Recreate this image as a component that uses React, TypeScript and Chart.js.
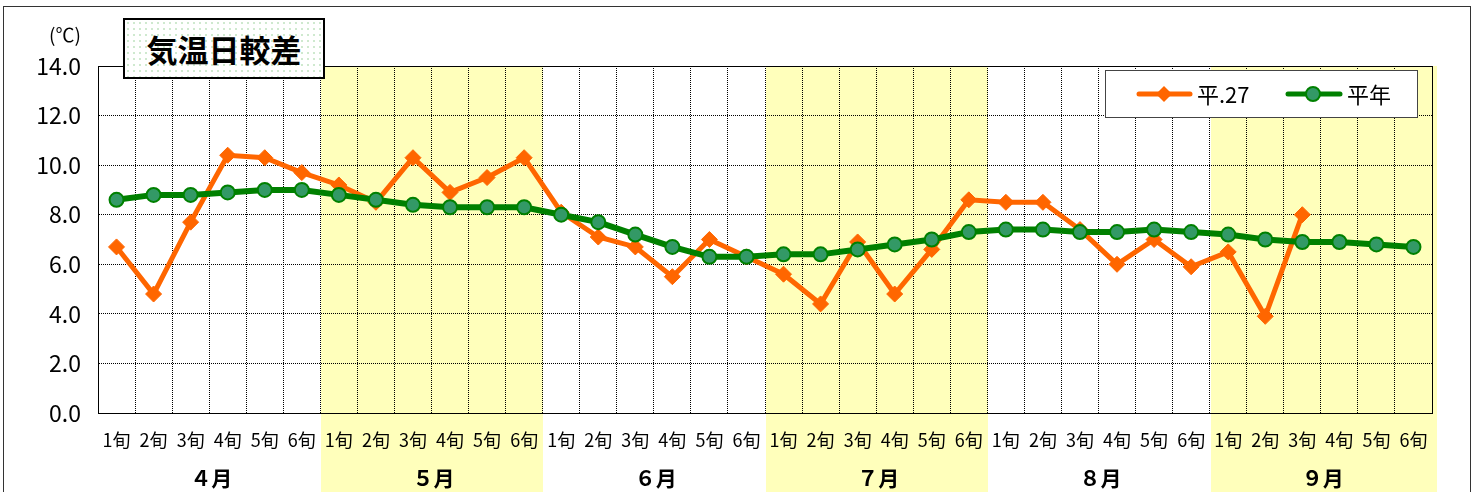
import { useEffect, useRef } from 'react';
import { Chart, registerables } from 'chart.js';

Chart.register(...registerables);

const months = ['４月', '５月', '６月', '７月', '８月', '９月'];
const decades = ['1旬', '2旬', '3旬', '4旬', '5旬', '6旬'];
const categories = months.flatMap(() => decades);

const seriesH27Label = '平.27';
const seriesNormalLabel = '平年';

const h27 = [
  6.7, 4.8, 7.7, 10.4, 10.3, 9.7,
  9.2, 8.5, 10.3, 8.9, 9.5, 10.3,
  8.1, 7.1, 6.7, 5.5, 7.0, 6.3,
  5.6, 4.4, 6.9, 4.8, 6.6, 8.6,
  8.5, 8.5, 7.4, 6.0, 7.0, 5.9,
  6.5, 3.9, 8.0, null, null, null,
];

const normal = [
  8.6, 8.8, 8.8, 8.9, 9.0, 9.0,
  8.8, 8.6, 8.4, 8.3, 8.3, 8.3,
  8.0, 7.7, 7.2, 6.7, 6.3, 6.3,
  6.4, 6.4, 6.6, 6.8, 7.0, 7.3,
  7.4, 7.4, 7.3, 7.3, 7.4, 7.3,
  7.2, 7.0, 6.9, 6.9, 6.8, 6.7,
];

const yMin = 0;
const yMax = 14;
const yStep = 2;
const shadedMonths = [1, 3, 5];

const ORANGE = '#FF6600';
const GREEN = '#008000';
const GREEN_FILL = '#339966';
const YELLOW = 'rgb(255,255,187)';
const FONT = '"Noto Sans CJK JP", "Noto Sans", sans-serif';

const decorPlugin = {
  id: 'decor',
  beforeDraw(chart: any) {
    const { ctx, chartArea, scales } = chart;
    const x = scales.x;
    const half = (x.getPixelForValue(1) - x.getPixelForValue(0)) / 2;
    ctx.save();
    ctx.fillStyle = '#fff';
    ctx.fillRect(0, 0, chart.width, chart.height);
    ctx.fillStyle = YELLOW;
    shadedMonths.forEach((m) => {
      const l = x.getPixelForValue(m * 6) - half;
      const r = x.getPixelForValue(m * 6 + 5) + half;
      const extra = m === 5 ? 4 : 0;
      ctx.fillRect(Math.round(l) + 1, chartArea.top, Math.round(r - l) + extra, chart.height - chartArea.top);
    });
    // outer frame
    ctx.strokeStyle = '#333';
    ctx.lineWidth = 1;
    ctx.strokeRect(3.5, 6.5, 1467, 520);
    ctx.restore();
  },
  afterDraw(chart: any) {
    const { ctx, chartArea, scales } = chart;
    const x = scales.x;
    ctx.save();
    // plot border
    ctx.strokeStyle = '#000';
    ctx.lineWidth = 1;
    ctx.strokeRect(
      Math.round(chartArea.left) + 0.5,
      Math.round(chartArea.top) + 0.5,
      Math.round(chartArea.right - chartArea.left),
      Math.round(chartArea.bottom - chartArea.top)
    );
    // month labels
    ctx.fillStyle = '#000';
    ctx.font = `bold 21px ${FONT}`;
    ctx.textAlign = 'center';
    ctx.textBaseline = 'middle';
    months.forEach((m, i) => {
      const cx = (x.getPixelForValue(i * 6) + x.getPixelForValue(i * 6 + 5)) / 2;
      ctx.fillText(m, cx + 2, 478);
    });
    // legend
    const bx = 1105, by = 70, bw = 312, bh = 47;
    ctx.fillStyle = '#fff';
    ctx.fillRect(bx, by, bw, bh);
    ctx.strokeStyle = '#444';
    ctx.strokeRect(bx + 0.5, by + 0.5, bw, bh);
    const ly = 94;
    // orange
    ctx.strokeStyle = ORANGE;
    ctx.lineWidth = 5;
    ctx.lineCap = 'round';
    ctx.beginPath();
    ctx.moveTo(1139, ly);
    ctx.lineTo(1190, ly);
    ctx.stroke();
    ctx.fillStyle = ORANGE;
    ctx.beginPath();
    ctx.moveTo(1164, ly - 8);
    ctx.lineTo(1172, ly);
    ctx.lineTo(1164, ly + 8);
    ctx.lineTo(1156, ly);
    ctx.closePath();
    ctx.fill();
    // green
    ctx.strokeStyle = GREEN;
    ctx.lineWidth = 5;
    ctx.beginPath();
    ctx.moveTo(1288, ly);
    ctx.lineTo(1340, ly);
    ctx.stroke();
    ctx.fillStyle = GREEN_FILL;
    ctx.lineWidth = 2;
    ctx.beginPath();
    ctx.arc(1313, ly, 7, 0, Math.PI * 2);
    ctx.fill();
    ctx.stroke();
    ctx.fillStyle = '#000';
    ctx.font = `22px ${FONT}`;
    ctx.textAlign = 'left';
    ctx.fillText(seriesH27Label, 1197, ly + 1);
    ctx.fillText(seriesNormalLabel, 1347, ly + 1);
    ctx.restore();
  },
};

export default function App() {
  const ref = useRef<HTMLCanvasElement | null>(null);
  useEffect(() => {
    if (!ref.current) return;
    const chart = new Chart(ref.current, {
      type: 'line',
      data: {
        labels: categories,
        datasets: [
          {
            label: seriesH27Label,
            data: h27,
            borderColor: ORANGE,
            backgroundColor: ORANGE,
            borderWidth: 5,
            pointStyle: 'rectRot',
            pointRadius: 8,
            pointBackgroundColor: ORANGE,
            pointBorderColor: ORANGE,
            pointBorderWidth: 1,
            tension: 0,
            order: 2,
          },
          {
            label: seriesNormalLabel,
            data: normal,
            borderColor: GREEN,
            backgroundColor: GREEN_FILL,
            borderWidth: 6,
            pointStyle: 'circle',
            pointRadius: 7,
            pointBackgroundColor: GREEN_FILL,
            pointBorderColor: GREEN,
            pointBorderWidth: 2,
            tension: 0,
            order: 1,
          },
        ],
      },
      options: {
        responsive: false,
        animation: false,
        devicePixelRatio: 1,
        layout: { padding: { left: 0, top: 66, right: 44, bottom: 0 } },
        plugins: {
          legend: { display: false },
          tooltip: { enabled: false },
          title: { display: false },
        },
        scales: {
          x: {
            type: 'category',
            offset: true,
            grid: {
              offset: true,
              color: '#000',
              lineWidth: 1,
              drawTicks: false,
            },
            border: { display: true, color: '#000', dash: [1, 1] },
            ticks: {
              color: '#000',
              font: { family: FONT, size: 18 },
              padding: 16,
              maxRotation: 0,
              autoSkip: false,
            },
            afterFit(scale: any) {
              scale.height = 79;
            },
          },
          y: {
            min: yMin,
            max: yMax,
            grid: {
              color: '#000',
              lineWidth: 1,
              drawTicks: false,
            },
            border: { display: true, color: '#000', dash: [1, 1] },
            ticks: {
              stepSize: yStep,
              color: '#000',
              font: { family: FONT, size: 23 },
              padding: 17,
              callback: (v: any) => Number(v).toFixed(1),
            },
            afterFit(scale: any) {
              scale.width = 98;
            },
          },
        },
      },
      plugins: [decorPlugin],
    });
    return () => chart.destroy();
  }, []);

  return (
    <div style={{ position: 'fixed', left: 0, top: 0, width: 1476, height: 492, background: '#fff' }}>
      <canvas ref={ref} width={1476} height={492} style={{ position: 'absolute', left: 0, top: 0 }} />
      <div
        style={{
          position: 'absolute',
          left: 49,
          top: 23,
          fontFamily: FONT,
          fontSize: 19,
          color: '#000',
          lineHeight: '22px',
        }}
      >
        (℃)
      </div>
      <div
        style={{
          position: 'absolute',
          left: 123,
          top: 18,
          width: 202,
          height: 61,
          boxSizing: 'border-box',
          border: '2px solid #000',
          backgroundColor: '#fff',
          backgroundImage: 'radial-gradient(circle, #cfe9cf 1px, transparent 1.4px)',
          backgroundSize: '6px 6px',
          display: 'flex',
          alignItems: 'center',
          justifyContent: 'center',
          fontFamily: FONT,
          fontWeight: 700,
          fontSize: 31,
          color: '#000',
          letterSpacing: 0,
        }}
      >
        気温日較差
      </div>
    </div>
  );
}
